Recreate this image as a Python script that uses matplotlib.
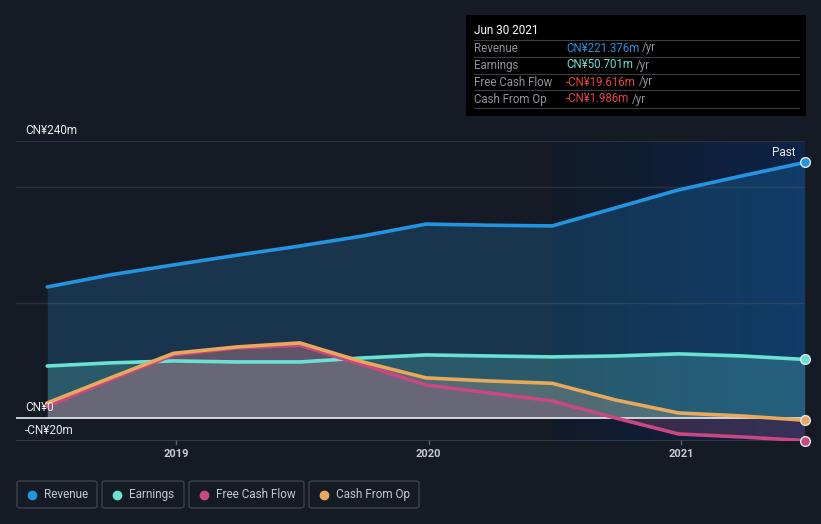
import matplotlib
matplotlib.use("Agg")
import matplotlib.pyplot as plt
from matplotlib.patches import FancyBboxPatch, Rectangle
import numpy as np

plt.rcParams['font.family'] = ['Roboto', 'DejaVu Sans']

# Data (CN¥ millions), quarterly trailing-twelve-month values
dates = [2018.49, 2018.74, 2018.99, 2019.24, 2019.49, 2019.74, 2019.99,
         2020.24, 2020.49, 2020.74, 2020.99, 2021.24, 2021.49]
revenue = [113.5, 124.0, 132.6, 141.0, 149.0, 157.7, 168.0, 167.0, 166.4, 182.0, 197.6, 209.7, 221.376]
earnings = [45.0, 47.7, 49.4, 48.5, 48.5, 52.0, 54.6, 53.7, 52.9, 53.7, 55.5, 53.7, 50.701]
free_cash_flow = [10.0, 33.0, 54.6, 60.7, 63.0, 46.0, 28.6, 21.7, 14.7, 0.0, -13.9, -16.5, -19.616]
cash_from_op = [13.0, 34.7, 56.0, 61.5, 65.0, 48.5, 34.7, 32.0, 30.0, 15.6, 4.3, 1.7, -1.986]

year_ticks = [2019, 2020, 2021]
y_labels = [(240, "CN¥240m"), (0, "CN¥0"), (-20, "-CN¥20m")]

BG = "#151b24"
C_REV = "#2394df"
C_EARN = "#6ce0d2"
C_FCF = "#c8487f"
C_CFO = "#e8a95c"

W, H = 821, 524
fig = plt.figure(figsize=(W / 100, H / 100), dpi=100, facecolor=BG)

def fx(px):
    return px / W

def fy(py):
    return 1 - py / H

ax = fig.add_axes([fx(16), fy(441), fx(805) - fx(16), fy(141) - fy(441)])
ax.set_facecolor(BG)
ax.set_xlim(2018.366, 2021.491)
ax.set_ylim(-20, 240)
for s in ax.spines.values():
    s.set_visible(False)
ax.set_yticks([])
ax.set_xticks([])

# highlighted "past" region with left-to-right gradient
grad = np.linspace(0, 1, 256).reshape(1, -1)
from matplotlib.colors import LinearSegmentedColormap
cmap = LinearSegmentedColormap.from_list("past", ["#111a28", "#0d2448"])
ax.imshow(grad, extent=[2020.49, 2021.491, -20, 240], aspect="auto", cmap=cmap, zorder=0,
          interpolation="bicubic")
ax.set_xlim(2018.366, 2021.491)
ax.set_ylim(-20, 240)

# gridlines
for g in [240, 200, 100]:
    ax.axhline(g, color="#2a313c", lw=1, zorder=1)
ax.axhline(-20, color="#3a414c", lw=1.2, zorder=1)

x = np.array(dates)
# fills
ax.fill_between(x, revenue, 0, color=C_REV, alpha=0.22, lw=0, zorder=2)
ax.fill_between(x, earnings, 0, color=C_EARN, alpha=0.22, lw=0, zorder=2)
ax.fill_between(x, cash_from_op, 0, color="#c9a58a", alpha=0.25, lw=0, zorder=2)
ax.fill_between(x, free_cash_flow, 0, color="#b05a8a", alpha=0.25, lw=0, zorder=2)

ax.axhline(0, color="#e8eaee", lw=1.2, zorder=3)

for series, c in [(revenue, C_REV), (earnings, C_EARN), (free_cash_flow, C_FCF), (cash_from_op, C_CFO)]:
    ax.plot(x, series, color=c, lw=2.6, zorder=4, solid_capstyle="round", solid_joinstyle="round")
    ax.plot(x[-1], series[-1], "o", ms=7, mfc=c, mec="#dfe6ee", mew=1, zorder=5, clip_on=False)

# y labels inside plot
for v, t in y_labels:
    ax.text(2018.366 + 9 / 252.5, v + 3.5, t, color="#e8eaee", fontsize=8.5, va="bottom", ha="left", zorder=6)

ax.text(2021.455, 224, "Past", color="#e8eaee", fontsize=8.5, ha="right", va="bottom", zorder=6)

# x ticks
for yr in year_ticks:
    ax.plot([yr, yr], [-20, -23], color="#5a606a", lw=1, clip_on=False)
    ax.text(yr, -27, str(yr), color="#c8ccd2", fontsize=8, ha="center", va="top", fontweight="bold")

# tooltip box
tb = Rectangle((fx(466), fy(116)), fx(806) - fx(466), fy(15) - fy(116), transform=fig.transFigure,
               facecolor="#000000", edgecolor="none", zorder=10)
fig.patches.append(tb)
fig.text(fx(474), fy(31), "Jun 30 2021", color="#ffffff", fontsize=8.5, va="center", ha="left", zorder=11)
rows = [("Revenue", "CN¥221.376m", C_REV), ("Earnings", "CN¥50.701m", C_EARN),
        ("Free Cash Flow", "-CN¥19.616m", "#e84545"), ("Cash From Op", "-CN¥1.986m", "#e84545")]
for i, (lab, val, col) in enumerate(rows):
    yc = 48 + i * 17
    fig.add_artist(plt.Line2D([fx(474), fx(799)], [fy(yc - 8.5), fy(yc - 8.5)], transform=fig.transFigure,
                              color="#3a3d42", lw=0.8, zorder=11))
    fig.text(fx(474), fy(yc), lab, color="#8f949b", fontsize=8.3, va="center", ha="left", zorder=11)
    t = fig.text(fx(566), fy(yc), val, color=col, fontsize=8.3, va="center", ha="left", zorder=11)
    fig.canvas.draw()
    bb = t.get_window_extent()
    fig.text(bb.x1 / W + 3 / W, fy(yc), "/yr", color="#8f949b", fontsize=8.3, va="center", ha="left", zorder=11)
fig.add_artist(plt.Line2D([fx(474), fx(799)], [fy(48 + 4 * 17 - 8.5), fy(48 + 4 * 17 - 8.5)],
                          transform=fig.transFigure, color="#3a3d42", lw=0.8, zorder=11))

# legend
legend_items = [("Revenue", C_REV, 17, 97), ("Earnings", C_EARN, 102, 184),
                ("Free Cash Flow", C_FCF, 189, 304), ("Cash From Op", C_CFO, 309, 419)]
for lab, col, x0, x1 in legend_items:
    box = FancyBboxPatch((fx(x0), fy(508)), fx(x1) - fx(x0), fy(481) - fy(508),
                         boxstyle="round,pad=0,rounding_size=0.004", transform=fig.transFigure,
                         facecolor="none", edgecolor="#3c424c", lw=1)
    fig.patches.append(box)
    fig.add_artist(plt.Line2D([fx(x0 + 15)], [fy(494.5)], marker="o", ms=6, color=col, mec=col,
                              transform=fig.transFigure))
    fig.text(fx(x0 + 27), fy(494.5), lab, color="#c4c8ce", fontsize=8.5, va="center", ha="left")

fig.savefig("out.png", dpi=100, facecolor=BG)
